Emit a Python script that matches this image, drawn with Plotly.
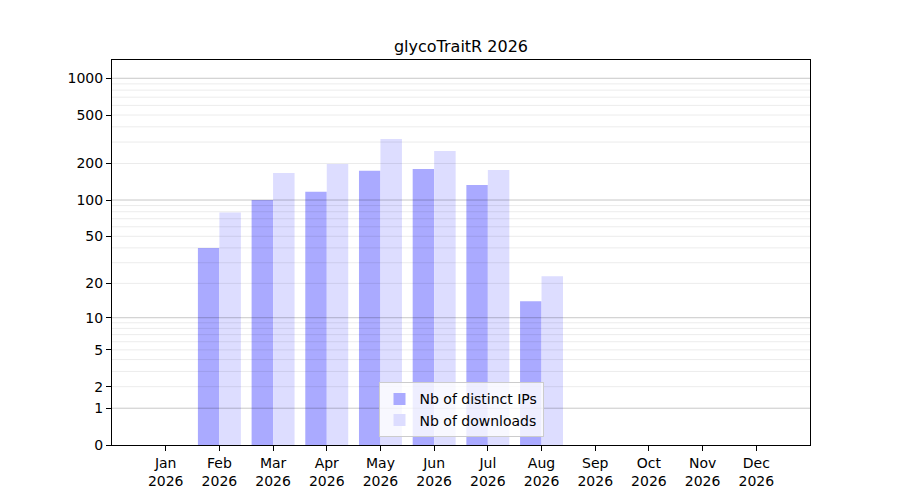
import numpy as np
import plotly.graph_objects as go

# Monthly stats (0 = no data)
months = ["Jan", "Feb", "Mar", "Apr", "May", "Jun", "Jul", "Aug", "Sep", "Oct", "Nov", "Dec"]
year = "2026"
distinct_ips = [0, 40, 100, 117, 174, 180, 133, 14, 0, 0, 0, 0]
downloads = [0, 79, 167, 198, 318, 253, 177, 23, 0, 0, 0, 0]

tick_values = [0, 1, 2, 5, 10, 20, 50, 100, 200, 500, 1000]
major_grid = [1, 10, 100, 1000]
minor_grid = [2, 3, 4, 5, 6, 7, 8, 9, 20, 30, 40, 50, 60, 70, 80, 90,
              200, 300, 400, 500, 600, 700, 800, 900]


def scale(v):
    # the y axis is log10(1 + x)
    return np.log10(1 + np.asarray(v, dtype=float))


x = list(range(len(months)))
labels = [f"{m}<br>{year}" for m in months]

fig = go.Figure()
fig.add_trace(go.Bar(
    x=x, y=scale(distinct_ips), name="Nb of distinct IPs",
    marker=dict(color="#aaaaff", line=dict(width=0)),
    width=0.4, offset=-0.4,
))
fig.add_trace(go.Bar(
    x=x, y=scale(downloads), name="Nb of downloads",
    marker=dict(color="#ddddff", line=dict(width=0)),
    width=0.4, offset=0.0,
))

# grid lines drawn over the bars, like the original
for v in minor_grid:
    fig.add_shape(type="line", xref="paper", x0=0, x1=1, yref="y",
                  y0=float(scale(v)), y1=float(scale(v)),
                  line=dict(color="rgba(0,0,0,0.08)", width=1), layer="above")
for v in major_grid:
    fig.add_shape(type="line", xref="paper", x0=0, x1=1, yref="y",
                  y0=float(scale(v)), y1=float(scale(v)),
                  line=dict(color="rgba(0,0,0,0.22)", width=1), layer="above")

# margins account for the 8px page offset of the html body
fig.update_layout(
    width=900, height=500,
    barmode="overlay",
    plot_bgcolor="white", paper_bgcolor="white",
    font=dict(family="DejaVu Sans", size=14, color="black"),
    title=dict(text="glycoTraitR 2026", xref="paper", x=0.5, xanchor="center",
               yref="container", y=0.924, yanchor="middle", font=dict(size=16)),
    margin=dict(l=104, r=98, t=52, b=63),
    showlegend=True,
    legend=dict(x=0.5, y=0.02, xanchor="center", yanchor="bottom",
                bgcolor="rgba(255,255,255,0.8)", bordercolor="#cccccc", borderwidth=1,
                font=dict(size=14)),
)
fig.update_xaxes(
    range=[-1, 12], tickvals=x, ticktext=labels, showgrid=False,
    showline=True, linecolor="black", linewidth=1, mirror=True,
    ticks="outside", ticklen=5, tickcolor="black", zeroline=False,
)
fig.update_yaxes(
    range=[0, 3.15], tickvals=list(scale(tick_values)), ticktext=[str(v) for v in tick_values],
    showgrid=False, showline=True, linecolor="black", linewidth=1, mirror=True,
    ticks="outside", ticklen=5, tickcolor="black", zeroline=False,
)

fig.write_html("out.html")
